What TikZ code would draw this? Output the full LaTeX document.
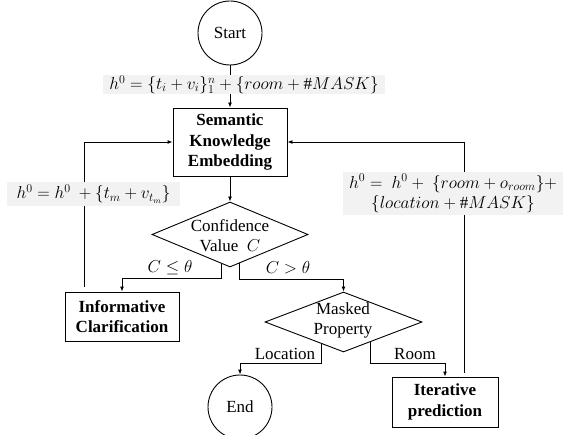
\documentclass[tikz,border=0pt]{standalone}
\usepackage{fontspec}
\setmainfont{Liberation Serif}
\usetikzlibrary{shapes.geometric,arrows.meta,calc}
\definecolor{labgray}{RGB}{242,242,242}
\begin{document}
\begin{tikzpicture}[x=1pt,y=-1pt,
  every node/.style={font=\fontsize{17}{20.5}\selectfont},
  boxnode/.style={draw, line width=0.9pt, align=center, inner sep=0pt,
    font=\fontsize{17}{20.5}\selectfont\bfseries},
  circnode/.style={draw, circle, line width=0.9pt, minimum size=64pt, inner sep=0pt},
  dianode/.style={draw, diamond, line width=0.9pt, inner sep=0pt},
  labnode/.style={fill=labgray, inner sep=0pt, align=center},
  txtnode/.style={inner sep=0pt, align=center},
  arr/.style={-{Latex[length=5pt,width=4pt]}, line width=0.9pt},
  con/.style={line width=0.9pt}]
\useasboundingbox (0,0) rectangle (564,435);

% shapes
\node[circnode] (start) at (230,33) {Start};
\node[boxnode, minimum width=114pt, minimum height=68pt] (sem) at (230,142)
  {Semantic\\Knowledge\\Embedding};
\node[dianode, minimum width=156pt, minimum height=65pt] (conf) at (230,234.5) {};
\node[txtnode] (conftxt) at (230,235.5) {Confidence\\Value~~$C$};
\node[boxnode, minimum width=114pt, minimum height=49pt] (info) at (122,316.5)
  {Informative\\Clarification};
\node[dianode, minimum width=157pt, minimum height=60pt] (mask) at (343.5,322) {};
\node[txtnode] (masktxt) at (343,320.5) {Masked\\Property};
\node[circnode] (endc) at (240,407) {End};
\node[boxnode, minimum width=106pt, minimum height=50pt] (iter) at (445,402)
  {Iterative\\prediction};

% connectors
\draw[arr] (start) -- (sem);
\draw[arr] (sem) -- (conf);
\draw[arr] (conf.253) -- (conf.253 |- 0,278.5) -| (info.north);
\draw[arr] (conf.289) -- (conf.289 |- 0,279.5) -| (mask.north);
\draw[arr] (mask.224) -- (mask.224 |- 0,363) -| (endc.north);
\draw[arr] (mask.323) -- (mask.323 |- 0,363) -| (iter.north);
\draw[arr] ($(info.north -| 84,0)+(0,-5)$) |- (sem.west);
\draw[arr] ($(iter.north -| 464,0)+(0,-4)$) |- (sem.east);

% labels (on top of lines)
\node[labnode, minimum width=282pt, minimum height=19pt] (l1) at (244,84.5)
  {$h^0=\{t_i+v_i\}_1^n+\{room+\#MASK\}$};
\node[labnode, minimum width=173pt, minimum height=24pt] (l2) at (93.5,194)
  {$h^0=h^0\ +\big\{t_m+v_{t_m}\big\}$};
\node[labnode, minimum width=220pt, minimum height=43pt] (l3) at (453,193.5)
  {$h^0=\ h^0+\ \{room+o_{room}\}+$\\$\{location+\#MASK\}$};
\node[txtnode] (c1) at (170,268) {$C\leq\theta$};
\node[txtnode] (c2) at (288,268) {$C>\theta$};
\node[txtnode] (c3) at (285,354) {Location};
\node[txtnode] (c4) at (415,354) {Room};
\end{tikzpicture}
\end{document}
